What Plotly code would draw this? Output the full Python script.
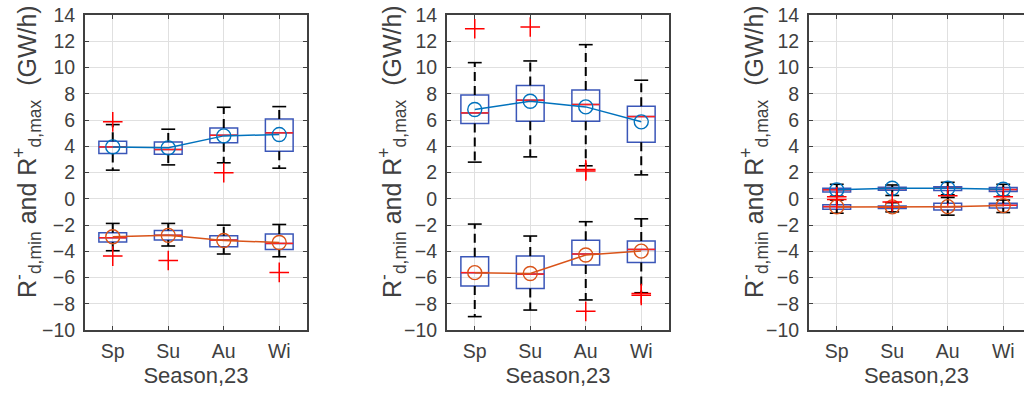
import plotly.graph_objects as go

seasons = ["Sp", "Su", "Au", "Wi"]
xpos = [1, 2, 3, 4]

# ---- Panel 1 ----
p1_up_q1 = [3.45, 3.40, 4.26, 3.62]
p1_up_med = [3.95, 3.75, 4.84, 5.02]
p1_up_q3 = [4.39, 4.33, 5.40, 6.08]
p1_up_lo = [2.18, 2.58, 2.74, 2.33]
p1_up_hi = [5.65, 5.30, 6.97, 7.02]
p1_up_mean = [3.95, 3.88, 4.79, 4.89]
p1_up_out = [(1, 5.86), (3, 1.98)]

p1_lo_q1 = [-3.30, -3.15, -3.66, -3.86]
p1_lo_med = [-2.97, -2.79, -3.15, -3.40]
p1_lo_q3 = [-2.59, -2.41, -2.82, -2.69]
p1_lo_lo = [-3.96, -3.60, -4.21, -4.42]
p1_lo_hi = [-1.88, -1.88, -2.01, -1.96]
p1_lo_mean = [-2.90, -2.79, -3.18, -3.33]
p1_lo_out = [(1, -4.37), (2, -4.70), (4, -5.61)]

# ---- Panel 2 ----
p2_up_q1 = [5.73, 5.91, 5.91, 4.31]
p2_up_med = [6.54, 7.51, 7.18, 6.26]
p2_up_q3 = [7.91, 8.62, 8.29, 7.05]
p2_up_lo = [2.79, 3.19, 2.51, 1.82]
p2_up_hi = [10.37, 10.50, 11.74, 9.03]
p2_up_mean = [6.80, 7.43, 7.00, 5.86]
p2_up_out = [(1, 12.95), (2, 13.09), (3, 2.22), (3, 2.12)]

p2_lo_q1 = [-6.65, -6.83, -5.05, -4.85]
p2_lo_med = [-5.63, -5.74, -4.21, -3.86]
p2_lo_q3 = [-4.42, -4.37, -3.17, -3.22]
p2_lo_lo = [-8.98, -8.48, -7.71, -7.16]
p2_lo_hi = [-1.93, -2.84, -1.75, -1.53]
p2_lo_mean = [-5.63, -5.70, -4.29, -3.99]
p2_lo_out = [(3, -8.58), (4, -7.22), (4, -7.36)]

# ---- Panel 3 ----
p3_up_q1 = [0.52, 0.65, 0.62, 0.55]
p3_up_med = [0.68, 0.78, 0.80, 0.70]
p3_up_q3 = [0.80, 0.88, 0.92, 0.85]
p3_up_lo = [0.20, 0.25, 0.30, 0.20]
p3_up_hi = [1.10, 1.05, 1.25, 1.10]
p3_up_mean = [0.68, 0.80, 0.80, 0.72]
p3_up_out = [(1, 0.15), (3, 0.22), (4, 0.15)]

p3_lo_q1 = [-0.80, -0.75, -0.85, -0.70]
p3_lo_med = [-0.60, -0.65, -0.60, -0.50]
p3_lo_q3 = [-0.45, -0.55, -0.35, -0.35]
p3_lo_lo = [-1.10, -1.00, -1.25, -1.05]
p3_lo_hi = [-0.10, -0.30, 0.10, -0.10]
p3_lo_mean = [-0.62, -0.62, -0.60, -0.52]
p3_lo_out = [(2, -0.25), (1, -0.05)]

panels = [
    (
        (p1_up_q1, p1_up_med, p1_up_q3, p1_up_lo, p1_up_hi, p1_up_mean, p1_up_out),
        (p1_lo_q1, p1_lo_med, p1_lo_q3, p1_lo_lo, p1_lo_hi, p1_lo_mean, p1_lo_out),
    ),
    (
        (p2_up_q1, p2_up_med, p2_up_q3, p2_up_lo, p2_up_hi, p2_up_mean, p2_up_out),
        (p2_lo_q1, p2_lo_med, p2_lo_q3, p2_lo_lo, p2_lo_hi, p2_lo_mean, p2_lo_out),
    ),
    (
        (p3_up_q1, p3_up_med, p3_up_q3, p3_up_lo, p3_up_hi, p3_up_mean, p3_up_out),
        (p3_lo_q1, p3_lo_med, p3_lo_q3, p3_lo_lo, p3_lo_hi, p3_lo_mean, p3_lo_out),
    ),
]

W, H = 1024, 393
left_px = [85, 447, 809]
ytitle_x_px = [27, 392, 754]
ytitle_y_px = 152
panel_w = 222
ytop, ybot = 15, 330
px_per_unit = panel_w / 4.0

BOX_W = 0.5
CAP_W = 0.25
box_col = "#3a56b8"
mean_cols = ["#0072BD", "#D95319"]
axis_col = "#404040"
font_fam = "Liberation Sans, Arial, sans-serif"

fig = go.Figure()

for i, (upper, lower) in enumerate(panels):
    xa = "x" if i == 0 else f"x{i+1}"
    ya = "y" if i == 0 else f"y{i+1}"
    for s, (q1, med, q3, lo, hi, mean, out) in enumerate((upper, lower)):
        # whiskers
        wx, wy = [], []
        cx, cy = [], []
        for k, x in enumerate(xpos):
            wx += [x, x, None, x, x, None]
            wy += [q3[k], hi[k], None, q1[k], lo[k], None]
            cx += [x - CAP_W / 2, x + CAP_W / 2, None, x - CAP_W / 2, x + CAP_W / 2, None]
            cy += [hi[k], hi[k], None, lo[k], lo[k], None]
        fig.add_trace(go.Scatter(x=wx, y=wy, mode="lines", xaxis=xa, yaxis=ya,
                                 line=dict(color="black", width=2, dash="9px,5px"),
                                 showlegend=False, hoverinfo="skip"))
        fig.add_trace(go.Scatter(x=cx, y=cy, mode="lines", xaxis=xa, yaxis=ya,
                                 line=dict(color="black", width=1.6),
                                 showlegend=False, hoverinfo="skip"))
        # boxes
        fig.add_trace(go.Box(x=xpos, q1=q1, median=med, q3=q3, lowerfence=q1,
                             upperfence=q3, width=BOX_W, xaxis=xa, yaxis=ya,
                             line=dict(color=box_col, width=1.5),
                             fillcolor="rgba(0,0,0,0)", boxpoints=False,
                             showlegend=False, hoverinfo="skip"))
        # medians
        mx, my = [], []
        for k, x in enumerate(xpos):
            mx += [x - BOX_W / 2, x + BOX_W / 2, None]
            my += [med[k], med[k], None]
        fig.add_trace(go.Scatter(x=mx, y=my, mode="lines", xaxis=xa, yaxis=ya,
                                 line=dict(color="#ff2020", width=1.5),
                                 showlegend=False, hoverinfo="skip"))
        # mean line
        fig.add_trace(go.Scatter(x=xpos, y=mean, mode="lines+markers", xaxis=xa, yaxis=ya,
                                 line=dict(color=mean_cols[s], width=1.5),
                                 marker=dict(symbol="circle-open", size=14,
                                             line=dict(color=mean_cols[s], width=1.4),
                                             color=mean_cols[s]),
                                 showlegend=False, hoverinfo="skip"))
        # outliers
        if out:
            fig.add_trace(go.Scatter(x=[o[0] for o in out], y=[o[1] for o in out],
                                     mode="markers", xaxis=xa, yaxis=ya,
                                     marker=dict(symbol="cross-thin-open", size=14,
                                                 color="#ff0000",
                                                 line=dict(color="#ff0000", width=1.5)),
                                     showlegend=False, hoverinfo="skip"))

layout = dict(
    width=W, height=H, margin=dict(l=0, r=0, t=0, b=0),
    paper_bgcolor="white", plot_bgcolor="white", boxmode="overlay",
    font=dict(family=font_fam, color=axis_col, size=19),
)
ydom = [(H - ybot) / H, (H - ytop) / H]
ytitle = "R<sup>-</sup><sub>d,min</sub> and R<sup>+</sup><sub>d,max</sub>  (GW/h)"
annotations = []
for i in range(3):
    sfx = "" if i == 0 else str(i + 1)
    x0 = left_px[i] / W
    x1 = min((left_px[i] + panel_w) / W, 1.0)
    xmax = 0.5 + (min(left_px[i] + panel_w, W) - left_px[i]) / px_per_unit
    last = i == 2
    layout["xaxis" + sfx] = dict(
        domain=[x0, x1], range=[0.5, xmax], anchor="y" + sfx,
        tickvals=xpos, ticktext=seasons, ticks="inside", ticklen=4,
        tickcolor=axis_col, showline=True, linecolor=axis_col, linewidth=2,
        mirror="ticks", showgrid=True, gridcolor="#e0e0e0", gridwidth=1,
        zeroline=False, tickfont=dict(size=19.5, color=axis_col),
        ticklabelstandoff=3,
        title=dict(text="Season,23", font=dict(size=22, color=axis_col), standoff=6),
        automargin=False,
    )
    layout["yaxis" + sfx] = dict(
        domain=ydom, range=[-10, 14], anchor="x" + sfx,
        tickvals=list(range(-10, 15, 2)), ticks="inside", ticklen=4,
        tickcolor=axis_col, showline=True, linecolor=axis_col, linewidth=2,
        mirror=False if last else "ticks", showgrid=True, gridcolor="#e0e0e0",
        gridwidth=1, zeroline=False, tickfont=dict(size=19.5, color=axis_col),
        ticklabelstandoff=4, automargin=False,
    )
    annotations.append(dict(
        text=ytitle, textangle=-90, xref="paper", yref="paper",
        x=ytitle_x_px[i] / W, y=(H - ytitle_y_px) / H,
        xanchor="center", yanchor="middle", showarrow=False,
        font=dict(size=25, color=axis_col, family=font_fam),
    ))
layout["annotations"] = annotations
fig.update_layout(**layout)
fig.write_html("out.html")
